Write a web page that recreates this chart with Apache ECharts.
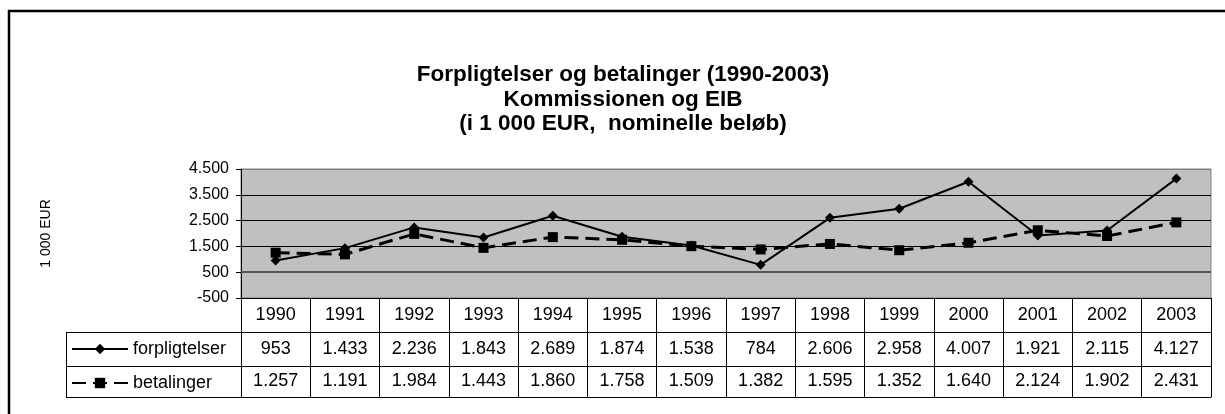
<!DOCTYPE html>
<html>
<head>
<meta charset="utf-8">
<script src="https://cdn.jsdelivr.net/npm/echarts@6/dist/echarts.min.js"></script>
<style>
html,body{margin:0;padding:0;background:#fff;}
#c{width:1225px;height:414px;}
</style>
</head>
<body>
<div id="c"></div>
<script>
var years = ['1990','1991','1992','1993','1994','1995','1996','1997','1998','1999','2000','2001','2002','2003'];
var forpligtelser = [953, 1433, 2236, 1843, 2689, 1874, 1538, 784, 2606, 2958, 4007, 1921, 2115, 4127];
var betalinger = [1257, 1191, 1984, 1443, 1860, 1758, 1509, 1382, 1595, 1352, 1640, 2124, 1902, 2431];
var seriesNames = ['forpligtelser', 'betalinger'];
var yMin = -500, yMax = 4500, yStep = 1000;

function fmt(v){
  var s = String(Math.abs(v)).replace(/\B(?=(\d{3})+(?!\d))/g, '.');
  return (v < 0 ? '-' : '') + s;
}

var FONT = '"Liberation Sans", Arial, sans-serif';
var chart = echarts.init(document.getElementById('c'), null, {renderer:'canvas'});

function tableAxis(data, offset, rowH, showLine){
  return {
    type: 'category',
    gridIndex: 0,
    position: 'bottom',
    offset: offset,
    data: data,
    boundaryGap: true,
    axisLine: {show: showLine, onZero: false, lineStyle: {color: '#000', width: 1}},
    axisTick: {show: rowH > 0, interval: 0, length: rowH, lineStyle: {color: '#000', width: 1}},
    axisLabel: {show: rowH > 0, interval: 0, margin: rowH/2, verticalAlign: 'middle',
      color: '#000', fontSize: 18, fontFamily: FONT},
    splitLine: {show: false}
  };
}

var option = {
  animation: false,
  backgroundColor: '#fff',
  title: {
    text: 'Forpligtelser og betalinger (1990-2003)\nKommissionen og EIB\n(i 1 000 EUR,  nominelle beløb)',
    left: 623, top: 63, textAlign: 'center', padding: 0,
    textStyle: {fontFamily: FONT, fontWeight: 'bold', fontSize: 22.5, lineHeight: 24.5, color: '#000'}
  },
  legend: {
    left: 71, top: 340, orient: 'vertical', padding: 0,
    itemWidth: 56, itemHeight: 13, itemGap: 16,
    data: seriesNames,
    textStyle: {fontFamily: FONT, fontSize: 18, color: '#000', height: 18, lineHeight: 18},
    selectedMode: false
  },
  grid: {
    left: 241, right: 14, top: 169, bottom: 116,
    show: true, backgroundColor: '#c0c0c0', borderColor: '#808080', borderWidth: 1
  },
  xAxis: [
    tableAxis(years, 0, 34, true),
    tableAxis(forpligtelser.map(fmt), 34, 34, true),
    tableAxis(betalinger.map(fmt), 68, 31, true),
    tableAxis(years.map(function(){return '';}), 99, 0, true)
  ],
  yAxis: {
    type: 'value', min: yMin, max: yMax, interval: yStep,
    name: '1 000 EUR', nameLocation: 'middle', nameGap: 188, nameRotate: 90,
    nameTextStyle: {fontFamily: FONT, fontSize: 14, color: '#000'},
    axisLine: {show: true, onZero: false, lineStyle: {color: '#000', width: 1}},
    axisTick: {show: true, length: 5, lineStyle: {color: '#000'}},
    axisLabel: {formatter: fmt, margin: 12, color: '#000', fontSize: 16, fontFamily: FONT},
    splitLine: {show: true, lineStyle: {color: ['#000','#000','#000','#000','#000','#808080'], width: 1}}
  },
  series: [
    {
      name: seriesNames[0], type: 'line', data: forpligtelser, xAxisIndex: 0,
      symbol: 'diamond', symbolSize: 10,
      lineStyle: {color: '#000', width: 2},
      itemStyle: {color: '#000'},
      markLine: {
        silent: true, symbol: 'none', label: {show: false},
        lineStyle: {type: 'solid', color: '#555', width: 2},
        data: [{yAxis: 500}]
      },
      z: 3
    },
    {
      name: seriesNames[1], type: 'line', data: betalinger, xAxisIndex: 0,
      symbol: 'rect', symbolSize: 10,
      lineStyle: {color: '#000', width: 3, type: [14, 7]},
      itemStyle: {color: '#000'},
      z: 2
    }
  ],
  graphic: [
    {type: 'rect', shape: {x: 9, y: 11, width: 1400, height: 600}, style: {fill: 'none', stroke: '#000', lineWidth: 2.5}, silent: true},
    {type: 'line', shape: {x1: 66, y1: 332.5, x2: 241, y2: 332.5}, style: {stroke: '#000', lineWidth: 1}},
    {type: 'line', shape: {x1: 66, y1: 366.5, x2: 241, y2: 366.5}, style: {stroke: '#000', lineWidth: 1}},
    {type: 'line', shape: {x1: 66, y1: 397.5, x2: 241, y2: 397.5}, style: {stroke: '#000', lineWidth: 1}},
    {type: 'line', shape: {x1: 66.5, y1: 332, x2: 66.5, y2: 398}, style: {stroke: '#000', lineWidth: 1}}
  ]
};
chart.setOption(option);
</script>
</body>
</html>
